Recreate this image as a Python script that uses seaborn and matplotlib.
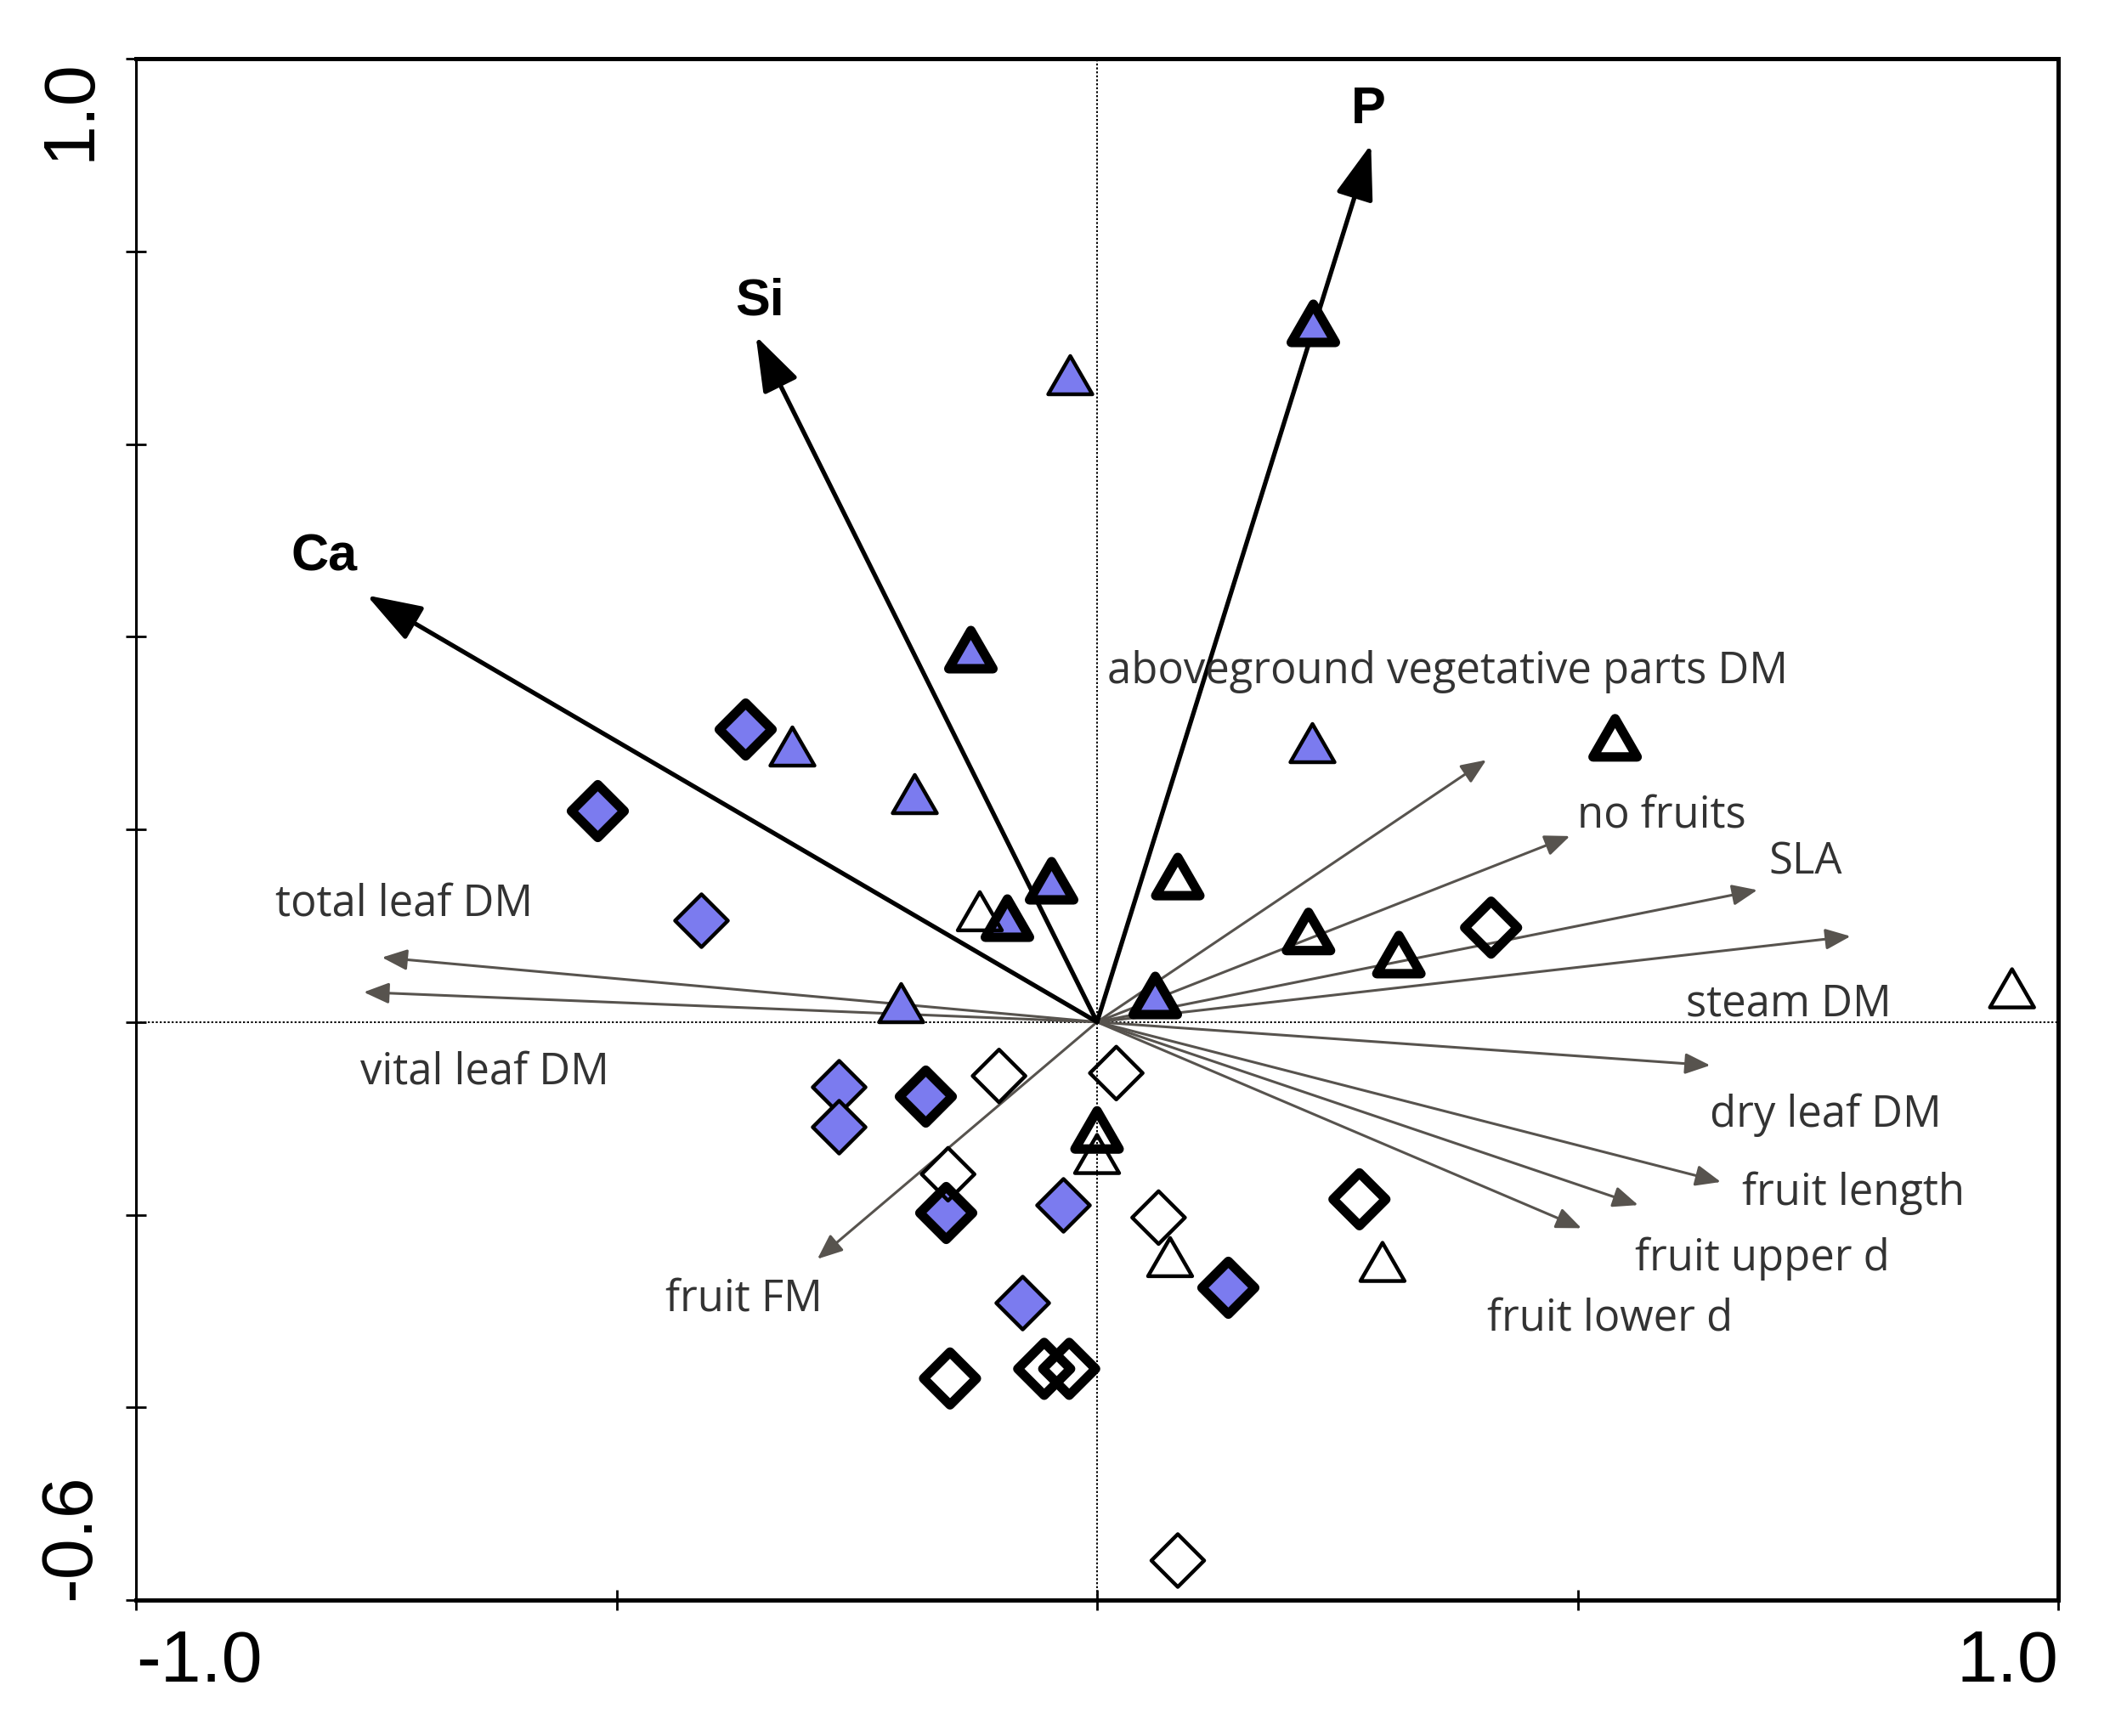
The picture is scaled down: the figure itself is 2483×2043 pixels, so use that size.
import numpy as np
import pandas as pd
import matplotlib
matplotlib.use("Agg")
import matplotlib.pyplot as plt
import seaborn as sns
from matplotlib.markers import MarkerStyle
from matplotlib.path import Path

# ---------------- data ----------------
# environmental (bold) vectors
env_names = ["Ca", "Si", "P"]
env_x = [-0.760, -0.355, 0.285]
env_y = [0.443, 0.712, 0.911]
env_lab_x = [-0.804, -0.351, 0.282]
env_lab_y = [0.482, 0.748, 0.947]

# response (grey) vectors
resp_names = ["aboveground vegetative parts DM", "no fruits", "SLA", "steam DM",
              "total leaf DM", "vital leaf DM", "dry leaf DM", "fruit length",
              "fruit upper d", "fruit lower d", "fruit FM"]
resp_x = [0.405, 0.492, 0.687, 0.784, -0.744, -0.763, 0.638, 0.649, 0.563, 0.504, -0.291]
resp_y = [0.272, 0.193, 0.137, 0.089, 0.067, 0.031, -0.045, -0.166, -0.190, -0.214, -0.246]
resp_lab_x = [0.365, 0.587, 0.737, 0.720, -0.721, -0.637, 0.758, 0.787, 0.692, 0.534, -0.367]
resp_lab_y = [0.364, 0.214, 0.166, 0.018, 0.122, -0.052, -0.097, -0.178, -0.246, -0.308, -0.288]

# sample scores, eight groups of five
blue_tri_thin_x = [-0.028, -0.317, -0.190, 0.224, -0.204]
blue_tri_thin_y = [0.672, 0.286, 0.237, 0.290, 0.020]
blue_tri_thick_x = [0.225, -0.132, -0.048, -0.094, 0.060]
blue_tri_thick_y = [0.726, 0.387, 0.147, 0.108, 0.028]
white_tri_thin_x = [-0.122, 0.952, 0.000, 0.076, 0.297]
white_tri_thin_y = [0.115, 0.035, -0.137, -0.244, -0.249]
white_tri_thick_x = [0.539, 0.084, 0.220, 0.314, 0.000]
white_tri_thick_y = [0.295, 0.151, 0.094, 0.070, -0.112]
blue_dia_thin_x = [-0.412, -0.269, -0.269, -0.035, -0.078]
blue_dia_thin_y = [0.106, -0.067, -0.109, -0.190, -0.291]
blue_dia_thick_x = [-0.366, -0.520, -0.179, -0.157, 0.136]
blue_dia_thick_y = [0.304, 0.219, -0.077, -0.198, -0.275]
white_dia_thin_x = [-0.102, 0.020, -0.155, 0.064, 0.084]
white_dia_thin_y = [-0.056, -0.053, -0.158, -0.203, -0.559]
white_dia_thick_x = [0.410, 0.273, -0.153, -0.055, -0.029]
white_dia_thick_y = [0.098, -0.184, -0.370, -0.360, -0.360]

x_ticks = [-1.0, -0.5, 0.0, 0.5, 1.0]
x_ticklabels = ["-1.0", "", "", "", "1.0"]
y_ticks = [-0.6, -0.4, -0.2, 0.0, 0.2, 0.4, 0.6, 0.8, 1.0]
y_ticklabels = ["-0.6", "", "", "", "", "", "", "", "1.0"]

groups = {
    "blue_tri_thin": (blue_tri_thin_x, blue_tri_thin_y),
    "blue_tri_thick": (blue_tri_thick_x, blue_tri_thick_y),
    "white_tri_thin": (white_tri_thin_x, white_tri_thin_y),
    "white_tri_thick": (white_tri_thick_x, white_tri_thick_y),
    "blue_dia_thin": (blue_dia_thin_x, blue_dia_thin_y),
    "blue_dia_thick": (blue_dia_thick_x, blue_dia_thick_y),
    "white_dia_thin": (white_dia_thin_x, white_dia_thin_y),
    "white_dia_thick": (white_dia_thick_x, white_dia_thick_y),
}
rows = []
for g, (xs, ys) in groups.items():
    for a, b in zip(xs, ys):
        rows.append({"group": g, "ax1": a, "ax2": b})
df = pd.DataFrame(rows)

# ---------------- styling ----------------
sns.set_theme(style="white")
plt.rcParams["font.family"] = ["Liberation Sans", "DejaVu Sans"]

W, H = 2483, 2043
fig = plt.figure(figsize=(W / 100, H / 100), dpi=100)
L, R, T, B = 160, 2422, 69, 1883
ax = fig.add_axes([L / W, 1 - B / H, (R - L) / W, (B - T) / H])
ax.set_xlim(-1.0, 1.0)
ax.set_ylim(-0.6, 1.0)

# zero lines
ax.axhline(0, color="black", lw=1.4, ls=(0, (1.2, 1.2)), zorder=1)
ax.axvline(0, color="black", lw=1.4, ls=(0, (1.2, 1.2)), zorder=1)

# grey response arrows
grey = "#57534e"
for nm, x, y, lx, ly in zip(resp_names, resp_x, resp_y, resp_lab_x, resp_lab_y):
    ax.annotate("", xy=(x, y), xytext=(0, 0),
                arrowprops=dict(arrowstyle="-|>,head_length=1.8,head_width=0.75",
                                mutation_scale=10, lw=2.2, color=grey,
                                shrinkA=0, shrinkB=0), zorder=2)
    ax.text(lx, ly, nm, ha="center", va="center", fontsize=36.5,
            family=["Open Sans", "DejaVu Sans"], color="#333333", zorder=5)

# bold environmental arrows
for nm, x, y, lx, ly in zip(env_names, env_x, env_y, env_lab_x, env_lab_y):
    ax.annotate("", xy=(x, y), xytext=(0, 0),
                arrowprops=dict(arrowstyle="-|>,head_length=1.6,head_width=0.55",
                                mutation_scale=25, lw=3.8, color="black",
                                shrinkA=0, shrinkB=0), zorder=2)
    ax.text(lx, ly, nm, ha="center", va="center", fontsize=44,
            fontweight="bold", color="black", zorder=5)

# markers
tri_path = Path([(-1, -0.866), (1, -0.866), (0, 0.866), (0, 0)],
                [Path.MOVETO, Path.LINETO, Path.LINETO, Path.CLOSEPOLY])
tri = MarkerStyle(tri_path, joinstyle="miter")
dia = MarkerStyle("D", joinstyle="miter")
blue = "#7b7bef"
spec = {
    "blue_tri_thin": (tri, 1400, blue, 3.2),
    "blue_tri_thick": (tri, 1400, blue, 8.0),
    "white_tri_thin": (tri, 1400, "none", 3.2),
    "white_tri_thick": (tri, 1400, "none", 8.0),
    "blue_dia_thin": (dia, 1000, blue, 3.2),
    "blue_dia_thick": (dia, 1000, blue, 8.0),
    "white_dia_thin": (dia, 1000, "none", 3.2),
    "white_dia_thick": (dia, 1000, "none", 8.0),
}
for g, (mk, s, fc, lw) in spec.items():
    sub = df[df["group"] == g]
    n_before = len(ax.collections)
    sns.scatterplot(data=sub, x="ax1", y="ax2", marker=mk, s=s,
                    color=(blue if fc != "none" else "white"),
                    edgecolor="black", linewidth=lw, ax=ax, zorder=3, legend=False)
    coll = ax.collections[n_before]
    coll.set_facecolor(fc)
    coll.set_edgecolor("black")
    coll.set_linewidth(lw)

# axes, ticks
ax.set_xlabel("")
ax.set_ylabel("")
for side, sp in ax.spines.items():
    sp.set_visible(True)
    sp.set_color("black")
    sp.set_linewidth(3.6)
ax.spines["left"].set_linewidth(2.2)

ax.set_xticks(x_ticks, x_ticklabels)
ax.set_yticks(y_ticks, y_ticklabels)
ax.tick_params(axis="both", which="major", direction="inout", length=17, width=2.0,
               colors="black", labelsize=62, bottom=True, left=True, top=False, right=False)
ax.tick_params(axis="x", pad=16)
ax.tick_params(axis="y", pad=18, labelrotation=90)
xl = ax.get_xticklabels()
xl[0].set_ha("left")
xl[-1].set_ha("right")
yl = ax.get_yticklabels()
yl[0].set_va("bottom")
yl[-1].set_va("top")

fig.savefig("out.png", dpi=100, facecolor="white")
